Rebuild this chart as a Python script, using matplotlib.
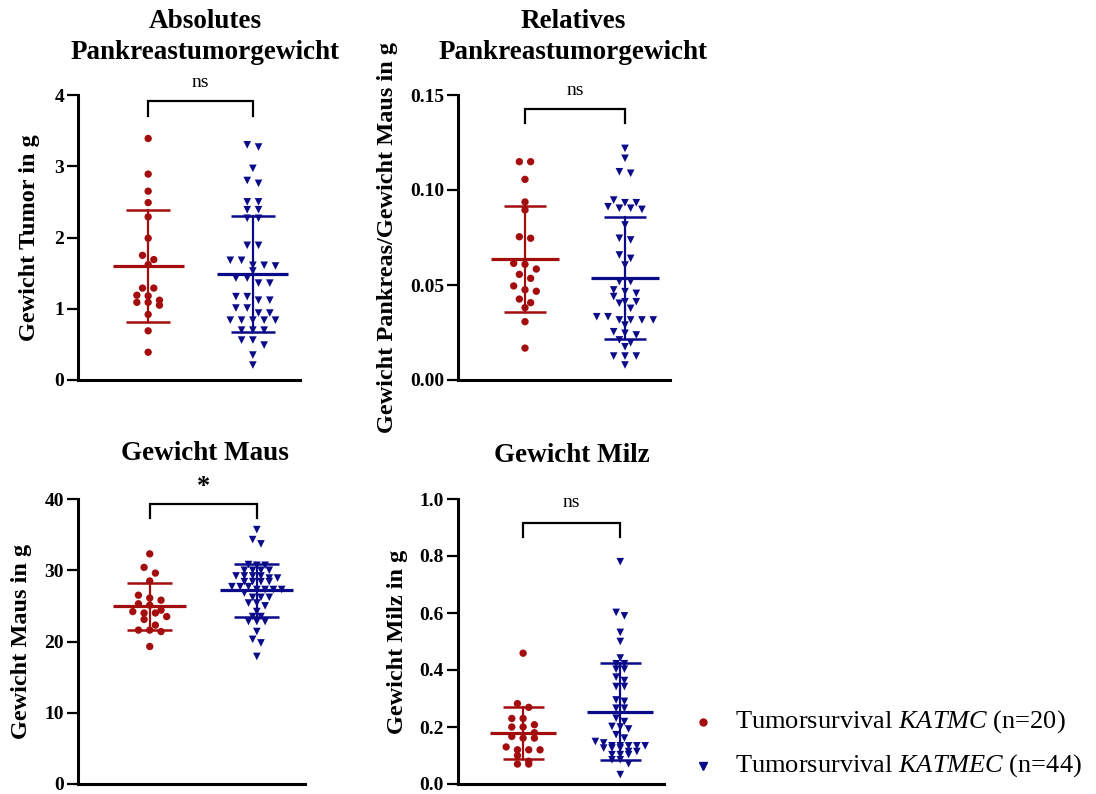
import numpy as np
import matplotlib
matplotlib.use('Agg')
import matplotlib.pyplot as plt
from matplotlib.lines import Line2D
from matplotlib.ticker import FormatStrFormatter

plt.rcParams['font.family'] = ['Liberation Serif', 'DejaVu Serif']
plt.rcParams['mathtext.fontset'] = 'custom'
plt.rcParams['mathtext.rm'] = 'Liberation Serif'
plt.rcParams['mathtext.it'] = 'Liberation Serif:italic'

RED = '#a30d0d'
BLUE = '#0b0b8a'

group_labels = ['Tumorsurvival $\\it{KATMC}$ (n=20)', 'Tumorsurvival $\\it{KATMEC}$ (n=44)']

# ---- data ----
tumor_katmc = [3.39, 2.89, 2.65, 2.49, 2.29, 1.99, 1.75, 1.69, 1.62, 1.29, 1.29, 1.19, 1.18,
               1.12, 1.09, 1.09, 1.05, 0.92, 0.69, 0.39]
tumor_katmec = [3.30, 3.27, 2.97, 2.80, 2.76, 2.50, 2.50, 2.39, 2.39, 2.27, 2.27, 1.89, 1.89,
                1.68, 1.68, 1.61, 1.60, 1.61, 1.53, 1.43, 1.43, 1.36, 1.36, 1.17, 1.17, 1.12,
                1.12, 1.01, 1.01, 0.94, 0.94, 0.84, 0.84, 0.84, 0.84, 0.84, 0.70, 0.70, 0.70,
                0.56, 0.56, 0.49, 0.35, 0.21]

rel_katmc = [0.1149, 0.1149, 0.1056, 0.0937, 0.0895, 0.0754, 0.0746, 0.0614, 0.0609, 0.0584,
             0.0556, 0.0535, 0.0495, 0.0475, 0.0467, 0.0426, 0.0407, 0.0381, 0.0307, 0.0168]
rel_katmec = [0.1219, 0.1167, 0.1096, 0.1088, 0.0933, 0.0933, 0.0898, 0.0904, 0.0947, 0.0912,
              0.0904, 0.0816, 0.0746, 0.0737, 0.0658, 0.0640, 0.0605, 0.0518, 0.0518, 0.0474,
              0.0465, 0.0456, 0.0439, 0.0412, 0.0412, 0.0404, 0.0377, 0.0333, 0.0333, 0.0316,
              0.0316, 0.0316, 0.0316, 0.0289, 0.0254, 0.0246, 0.0237, 0.0211, 0.0196, 0.0175,
              0.0126, 0.0126, 0.0126, 0.0079]

maus_katmc = [32.3, 30.4, 29.6, 28.5, 26.5, 26.1, 25.8, 25.3, 25.1, 24.4, 24.2, 24.0, 24.0,
              23.5, 23.1, 22.3, 21.6, 21.6, 21.4, 19.3]
maus_katmec = [35.7, 34.3, 33.7, 30.8, 30.7, 30.7, 30.0, 30.0, 30.0, 30.0, 29.2, 29.2, 29.2,
               29.2, 28.9, 28.9, 28.4, 28.4, 28.4, 28.4, 27.7, 27.7, 27.7, 27.3, 27.3, 27.3,
               27.3, 26.8, 26.2, 26.2, 26.2, 25.4, 25.4, 25.0, 24.2, 23.5, 23.5, 22.8, 22.8,
               22.8, 21.4, 20.3, 19.8, 17.9]

milz_katmc = [0.459, 0.282, 0.269, 0.230, 0.230, 0.208, 0.200, 0.200, 0.180, 0.167, 0.161,
              0.161, 0.130, 0.120, 0.120, 0.120, 0.100, 0.080, 0.070, 0.070]
milz_katmec = [0.780, 0.602, 0.590, 0.532, 0.500, 0.442, 0.422, 0.422, 0.403, 0.403, 0.375,
               0.363, 0.342, 0.342, 0.295, 0.290, 0.266, 0.266, 0.231, 0.219, 0.202, 0.200,
               0.193, 0.173, 0.161, 0.149, 0.144, 0.134, 0.134, 0.134, 0.134, 0.134, 0.126,
               0.126, 0.126, 0.114, 0.114, 0.103, 0.103, 0.103, 0.085, 0.085, 0.071, 0.033]

titles = ['Absolutes\nPankreastumorgewicht', 'Relatives\nPankreastumorgewicht',
          'Gewicht Maus', 'Gewicht Milz']
ylabels = ['Gewicht Tumor in g', 'Gewicht Pankreas/Gewicht Maus in g',
           'Gewicht Maus in g', 'Gewicht Milz in g']
yticks = [[0, 1, 2, 3, 4], [0, 0.05, 0.10, 0.15], [0, 10, 20, 30, 40],
          [0, 0.2, 0.4, 0.6, 0.8, 1.0]]
yfmt = ['%d', '%.2f', '%d', '%.1f']
sig = ['ns', 'ns', '*', 'ns']

W, H = 1096, 794
fig = plt.figure(figsize=(W / 100, H / 100), dpi=100)

# axes boxes in pixels: left, top, right, bottom
boxes = [(78, 95, 300, 380), (458, 95, 670, 380), (78, 499, 305, 784), (458, 499, 664, 784)]
title_pos = [(205, 37), (573, 37), (205, 454), (572, 456)]
ylabel_x = [30, 388, 22, 398]
bracket = [(3.71, 3.91, 4.17), (0.1354, 0.1425, 0.1526), (37.3, 39.3, 41.8), (0.868, 0.917, 0.986)]
# swarm column step (px) and row height (px) per panel and group
steps = [[11.3, 11.3], [11.3, 11.3], [11.3, 8.3], [11.3, 8.3]]
rowpx = [[6.5, 6.5], [6.5, 6.5], [6.5, 4.6], [6.5, 4.6]]

datasets = [(tumor_katmc, tumor_katmec), (rel_katmc, rel_katmec),
            (maus_katmc, maus_katmec), (milz_katmc, milz_katmec)]

XLIM = (0.33, 2.45)


def swarm(vals, ypx_per_unit, xpx_per_unit, step_px, row_px):
    vals = np.asarray(vals, float)
    order = np.argsort(-vals)
    offs = np.zeros(len(vals))
    rows = []
    cur = [order[0]]
    for i in order[1:]:
        if (vals[cur[0]] - vals[i]) * ypx_per_unit < row_px:
            cur.append(i)
        else:
            rows.append(cur)
            cur = [i]
    rows.append(cur)
    for r in rows:
        n = len(r)
        for j, i in enumerate(r):
            offs[i] = (j - (n - 1) / 2) * step_px / xpx_per_unit
    return offs


for k, (box, data) in enumerate(zip(boxes, datasets)):
    l, t, r, b = box
    ax = fig.add_axes([l / W, 1 - b / H, (r - l) / W, (b - t) / H])
    ymax = yticks[k][-1]
    ax.set_xlim(*XLIM)
    ax.set_ylim(0, ymax)
    xppu = (r - l) / (XLIM[1] - XLIM[0])
    yppu = (b - t) / ymax
    for g, (vals, col, mk) in enumerate(zip(data, [RED, BLUE], ['o', 'v'])):
        xc = g + 1
        vals = np.asarray(vals)
        offs = swarm(vals, yppu, xppu, steps[k][g], rowpx[k][g])
        ax.scatter(xc + offs, vals, s=28 if mk == 'o' else 30, marker=mk, color=col,
                   edgecolors='none', zorder=2, clip_on=False)
        m = vals.mean()
        sd = vals.std(ddof=1)
        ax.plot([xc - 0.34, xc + 0.34], [m, m], color=col, lw=2.3, zorder=3,
                solid_capstyle='butt')
        ax.plot([xc, xc], [m - sd, m + sd], color=col, lw=1.6, zorder=3)
        for yy in (m - sd, m + sd):
            ax.plot([xc - 0.21, xc + 0.21], [yy, yy], color=col, lw=1.8, zorder=3,
                    solid_capstyle='butt')
    y0, y1, yt = bracket[k]
    ax.plot([1, 1, 2, 2], [y0, y1, y1, y0], color='black', lw=1.6, clip_on=False,
            solid_joinstyle='miter')
    if sig[k] == '*':
        ax.text(1.5, yt, '*', ha='center', va='center', fontsize=19, fontweight='bold',
                clip_on=False)
    else:
        ax.text(1.5, yt, 'ns', ha='center', va='center', fontsize=14, clip_on=False)

    ax.set_yticks(yticks[k])
    ax.yaxis.set_major_formatter(FormatStrFormatter(yfmt[k]))
    ax.set_xticks([])
    for s in ('top', 'right'):
        ax.spines[s].set_visible(False)
    for s in ('left', 'bottom'):
        ax.spines[s].set_linewidth(2.2)
    ax.tick_params(axis='y', length=8, width=1.6, labelsize=14, pad=2)
    for lab in ax.get_yticklabels():
        lab.set_fontweight('bold')
    fig.text(ylabel_x[k] / W, 1 - ((t + b) / 2) / H, ylabels[k], rotation=90,
             ha='center', va='center', fontsize=17.5, fontweight='bold')
    tx, ty = title_pos[k]
    fig.text(tx / W, 1 - ty / H, titles[k], ha='center', va='center', fontsize=19.5,
             fontweight='bold', linespacing=1.3)

# legend (drawn manually at figure coordinates)
leg_y = [722, 766]
for (lab, col, mk, ms), yy in zip(zip(group_labels, [RED, BLUE], ['o', 'v'], [5, 5.5]), leg_y):
    fig.add_artist(Line2D([703 / W], [1 - yy / H], marker=mk, color=col, ls='none',
                          markersize=ms, transform=fig.transFigure))
    fig.text(735 / W, 1 - yy / H, lab, ha='left', va='center', fontsize=19)

fig.savefig('out.png', dpi=100)
